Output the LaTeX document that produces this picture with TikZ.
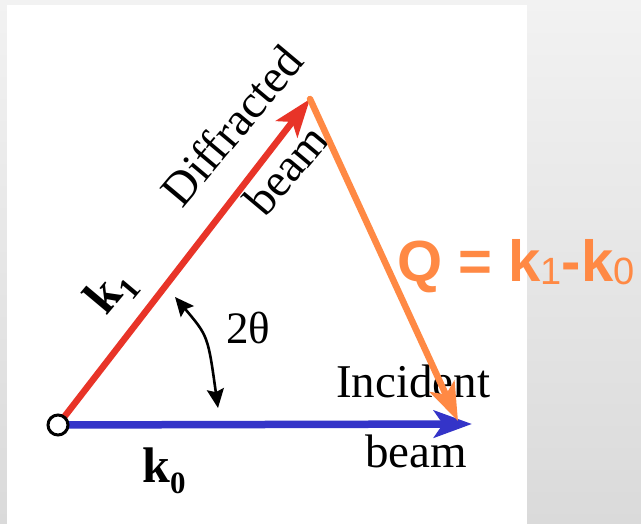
\documentclass[tikz,border=0pt]{standalone}
\usepackage{fontspec}
\setmainfont{Liberation Serif}
\newfontfamily\arialfont{Liberation Sans}
\usetikzlibrary{arrows.meta}
\definecolor{beamred}{RGB}{232,52,40}
\definecolor{beamblue}{RGB}{52,52,200}
\definecolor{qorange}{RGB}{255,137,68}
\definecolor{bgtop}{RGB}{242,242,242}
\definecolor{bgbot}{RGB}{218,218,218}
\begin{document}
\begin{tikzpicture}[x=1pt,y=-1pt,
  vec/.style={line width=6.5pt, -{Stealth[length=38pt,width=27pt,inset=9pt]}},
  lbl/.style={inner sep=0pt, font=\fontsize{47}{50}\selectfont},
  angarrow/.style={line width=2.6pt, {Stealth[length=19pt,width=17pt,inset=3pt]}-{Stealth[length=19pt,width=17pt,inset=3pt]}}
]
\useasboundingbox (0,0) rectangle (641,524);
\shade[top color=bgtop, bottom color=bgbot] (0,0) rectangle (641,524);
\fill[white] (7,5) rectangle (527,524);

% labels
\node[lbl, anchor=base west] (inc) at (336,397) {Incident};
\node[lbl, anchor=base west] (beamb) at (365,467) {beam};
\node[lbl, anchor=base, rotate=50] (diff) at (244,136) {Diffracted};
\node[lbl, anchor=base, rotate=50] (beamd) at (298,180) {beam};
\node[inner sep=0pt, anchor=base west, font=\fontsize{45}{48}\selectfont] (tt) at (226,344) {2θ};
\node[anchor=base west, inner sep=0pt] (k0) at (142,482)
  {\bfseries\fontsize{50}{52}\selectfont k\raisebox{-11pt}{\fontsize{31}{31}\selectfont 0}};
\node[rotate=50, inner sep=0pt] (k1) at (111,292)
  {\bfseries\fontsize{50}{52}\selectfont k\raisebox{-11pt}{\fontsize{31}{31}\selectfont 1}};
\node[anchor=base west, inner sep=0pt, text=qorange] (Q) at (397,282)
  {\arialfont\bfseries\fontsize{58}{60}\selectfont Q = k\raisebox{-3pt}{\mdseries\fontsize{38}{40}\selectfont 1}-k\raisebox{-3pt}{\mdseries\fontsize{38}{40}\selectfont 0}};

% vectors
\coordinate (O) at (58,425);
\coordinate (B) at (472,424);
\coordinate (T) at (310,99);
\coordinate (Qt) at (458,421);
\draw[vec, beamblue, line width=7.5pt] (O) -- (B);
\draw[vec, beamred] (O) -- (T);
\draw[vec, qorange, line cap=round] (T) -- (Qt);
\node[circle, draw=black, fill=white, line width=3pt, minimum size=20pt, inner sep=0pt] (orig) at (O) {};

% angle arrow
\coordinate (a1) at (175,297);
\coordinate (a2) at (218,408);
\draw[angarrow] (a1) .. controls (208,336) .. (a2);
\end{tikzpicture}
\end{document}
